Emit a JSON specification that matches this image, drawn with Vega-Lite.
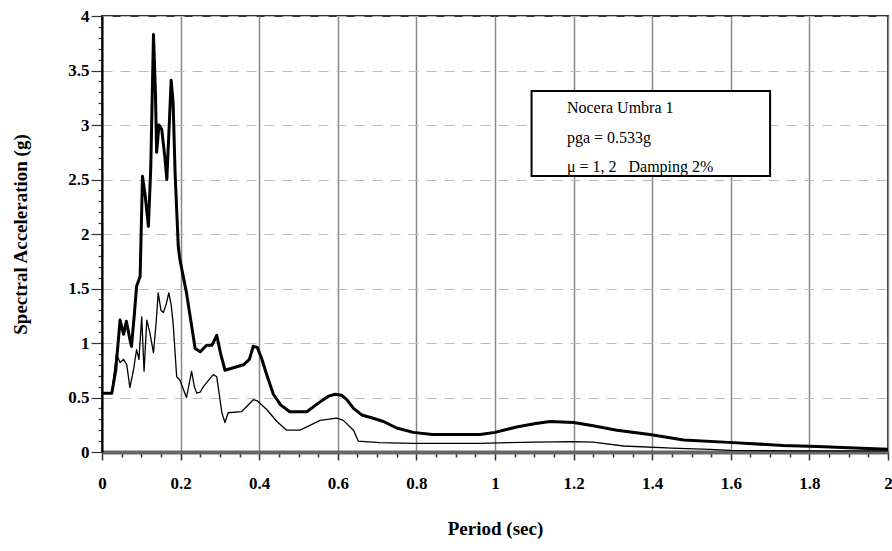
{
  "$schema": "https://vega.github.io/schema/vega-lite/v6.json",
  "width": 786,
  "height": 436,
  "autosize": "none",
  "padding": {"left": 102, "top": 16, "right": 4, "bottom": 99},
  "background": "white",
  "view": {"stroke": "#333", "strokeWidth": 2},
  "config": {
    "font": "Liberation Serif",
    "axis": {"labelFont": "Liberation Serif", "titleFont": "Liberation Serif"}
  },
  "datasets": {
    "curves": [
      {"period": 0.0, "sa": 0.54, "series": "mu1"},
      {"period": 0.025, "sa": 0.54, "series": "mu1"},
      {"period": 0.035, "sa": 0.75, "series": "mu1"},
      {"period": 0.046, "sa": 1.21, "series": "mu1"},
      {"period": 0.055, "sa": 1.08, "series": "mu1"},
      {"period": 0.062, "sa": 1.2, "series": "mu1"},
      {"period": 0.07, "sa": 1.05, "series": "mu1"},
      {"period": 0.075, "sa": 0.97, "series": "mu1"},
      {"period": 0.082, "sa": 1.25, "series": "mu1"},
      {"period": 0.088, "sa": 1.52, "series": "mu1"},
      {"period": 0.097, "sa": 1.61, "series": "mu1"},
      {"period": 0.103, "sa": 2.53, "series": "mu1"},
      {"period": 0.11, "sa": 2.35, "series": "mu1"},
      {"period": 0.118, "sa": 2.07, "series": "mu1"},
      {"period": 0.124, "sa": 2.6, "series": "mu1"},
      {"period": 0.131, "sa": 3.83, "series": "mu1"},
      {"period": 0.136, "sa": 3.3, "series": "mu1"},
      {"period": 0.139, "sa": 2.75, "series": "mu1"},
      {"period": 0.145, "sa": 3.0, "series": "mu1"},
      {"period": 0.152, "sa": 2.96, "series": "mu1"},
      {"period": 0.16, "sa": 2.7, "series": "mu1"},
      {"period": 0.165, "sa": 2.5, "series": "mu1"},
      {"period": 0.176, "sa": 3.41, "series": "mu1"},
      {"period": 0.181, "sa": 3.2, "series": "mu1"},
      {"period": 0.186, "sa": 2.56, "series": "mu1"},
      {"period": 0.194, "sa": 1.89, "series": "mu1"},
      {"period": 0.198, "sa": 1.77, "series": "mu1"},
      {"period": 0.215, "sa": 1.46, "series": "mu1"},
      {"period": 0.237, "sa": 0.95, "series": "mu1"},
      {"period": 0.25, "sa": 0.92, "series": "mu1"},
      {"period": 0.266, "sa": 0.98, "series": "mu1"},
      {"period": 0.28, "sa": 0.98, "series": "mu1"},
      {"period": 0.292, "sa": 1.07, "series": "mu1"},
      {"period": 0.302, "sa": 0.9, "series": "mu1"},
      {"period": 0.313, "sa": 0.75, "series": "mu1"},
      {"period": 0.36, "sa": 0.8, "series": "mu1"},
      {"period": 0.375, "sa": 0.85, "series": "mu1"},
      {"period": 0.385, "sa": 0.97, "series": "mu1"},
      {"period": 0.395, "sa": 0.96, "series": "mu1"},
      {"period": 0.406, "sa": 0.86, "series": "mu1"},
      {"period": 0.42, "sa": 0.7, "series": "mu1"},
      {"period": 0.436, "sa": 0.53, "series": "mu1"},
      {"period": 0.455, "sa": 0.43, "series": "mu1"},
      {"period": 0.478, "sa": 0.37, "series": "mu1"},
      {"period": 0.521, "sa": 0.37, "series": "mu1"},
      {"period": 0.555, "sa": 0.46, "series": "mu1"},
      {"period": 0.575, "sa": 0.51, "series": "mu1"},
      {"period": 0.593, "sa": 0.53, "series": "mu1"},
      {"period": 0.61, "sa": 0.52, "series": "mu1"},
      {"period": 0.623, "sa": 0.48, "series": "mu1"},
      {"period": 0.64, "sa": 0.4, "series": "mu1"},
      {"period": 0.661, "sa": 0.34, "series": "mu1"},
      {"period": 0.69, "sa": 0.31, "series": "mu1"},
      {"period": 0.716, "sa": 0.28, "series": "mu1"},
      {"period": 0.75, "sa": 0.22, "series": "mu1"},
      {"period": 0.792, "sa": 0.18, "series": "mu1"},
      {"period": 0.84, "sa": 0.16, "series": "mu1"},
      {"period": 0.877, "sa": 0.16, "series": "mu1"},
      {"period": 0.962, "sa": 0.16, "series": "mu1"},
      {"period": 1.0, "sa": 0.18, "series": "mu1"},
      {"period": 1.055, "sa": 0.23, "series": "mu1"},
      {"period": 1.1, "sa": 0.26, "series": "mu1"},
      {"period": 1.14, "sa": 0.28, "series": "mu1"},
      {"period": 1.2, "sa": 0.27, "series": "mu1"},
      {"period": 1.25, "sa": 0.24, "series": "mu1"},
      {"period": 1.31, "sa": 0.2, "series": "mu1"},
      {"period": 1.394, "sa": 0.16, "series": "mu1"},
      {"period": 1.48, "sa": 0.11, "series": "mu1"},
      {"period": 1.606, "sa": 0.086, "series": "mu1"},
      {"period": 1.733, "sa": 0.06, "series": "mu1"},
      {"period": 1.82, "sa": 0.05, "series": "mu1"},
      {"period": 1.9, "sa": 0.04, "series": "mu1"},
      {"period": 2.0, "sa": 0.025, "series": "mu1"},
      {"period": 0.0, "sa": 0.54, "series": "mu2"},
      {"period": 0.025, "sa": 0.54, "series": "mu2"},
      {"period": 0.037, "sa": 0.9, "series": "mu2"},
      {"period": 0.046, "sa": 0.82, "series": "mu2"},
      {"period": 0.055, "sa": 0.85, "series": "mu2"},
      {"period": 0.063, "sa": 0.8, "series": "mu2"},
      {"period": 0.071, "sa": 0.59, "series": "mu2"},
      {"period": 0.08, "sa": 0.75, "series": "mu2"},
      {"period": 0.088, "sa": 0.94, "series": "mu2"},
      {"period": 0.094, "sa": 0.85, "series": "mu2"},
      {"period": 0.101, "sa": 1.24, "series": "mu2"},
      {"period": 0.107, "sa": 0.74, "series": "mu2"},
      {"period": 0.114, "sa": 1.21, "series": "mu2"},
      {"period": 0.122, "sa": 1.09, "series": "mu2"},
      {"period": 0.131, "sa": 0.91, "series": "mu2"},
      {"period": 0.138, "sa": 1.2, "series": "mu2"},
      {"period": 0.143, "sa": 1.46, "series": "mu2"},
      {"period": 0.15, "sa": 1.3, "series": "mu2"},
      {"period": 0.156, "sa": 1.28, "series": "mu2"},
      {"period": 0.163, "sa": 1.35, "series": "mu2"},
      {"period": 0.17, "sa": 1.46, "series": "mu2"},
      {"period": 0.176, "sa": 1.35, "series": "mu2"},
      {"period": 0.181, "sa": 1.18, "series": "mu2"},
      {"period": 0.19, "sa": 0.69, "series": "mu2"},
      {"period": 0.198, "sa": 0.66, "series": "mu2"},
      {"period": 0.215, "sa": 0.5, "series": "mu2"},
      {"period": 0.228, "sa": 0.74, "series": "mu2"},
      {"period": 0.235, "sa": 0.6, "series": "mu2"},
      {"period": 0.241, "sa": 0.54, "series": "mu2"},
      {"period": 0.25, "sa": 0.55, "series": "mu2"},
      {"period": 0.258, "sa": 0.6, "series": "mu2"},
      {"period": 0.283, "sa": 0.71, "series": "mu2"},
      {"period": 0.292, "sa": 0.69, "series": "mu2"},
      {"period": 0.305, "sa": 0.36, "series": "mu2"},
      {"period": 0.313, "sa": 0.27, "series": "mu2"},
      {"period": 0.321, "sa": 0.36, "series": "mu2"},
      {"period": 0.355, "sa": 0.37, "series": "mu2"},
      {"period": 0.385, "sa": 0.48, "series": "mu2"},
      {"period": 0.395, "sa": 0.47, "series": "mu2"},
      {"period": 0.419, "sa": 0.39, "series": "mu2"},
      {"period": 0.445, "sa": 0.28, "series": "mu2"},
      {"period": 0.47, "sa": 0.2, "series": "mu2"},
      {"period": 0.504, "sa": 0.2, "series": "mu2"},
      {"period": 0.555, "sa": 0.29, "series": "mu2"},
      {"period": 0.597, "sa": 0.31, "series": "mu2"},
      {"period": 0.614, "sa": 0.29, "series": "mu2"},
      {"period": 0.64, "sa": 0.2, "series": "mu2"},
      {"period": 0.652, "sa": 0.1, "series": "mu2"},
      {"period": 0.707, "sa": 0.086, "series": "mu2"},
      {"period": 0.79, "sa": 0.08, "series": "mu2"},
      {"period": 0.96, "sa": 0.08, "series": "mu2"},
      {"period": 1.1, "sa": 0.09, "series": "mu2"},
      {"period": 1.2, "sa": 0.095, "series": "mu2"},
      {"period": 1.25, "sa": 0.09, "series": "mu2"},
      {"period": 1.327, "sa": 0.055, "series": "mu2"},
      {"period": 1.45, "sa": 0.035, "series": "mu2"},
      {"period": 1.547, "sa": 0.025, "series": "mu2"},
      {"period": 1.6, "sa": 0.015, "series": "mu2"},
      {"period": 1.8, "sa": 0.01, "series": "mu2"},
      {"period": 2.0, "sa": 0.01, "series": "mu2"}
    ],
    "box": [{"period": 1.093, "period2": 1.7, "sa": 2.531, "sa2": 3.313}],
    "notes": [
      {"period": 1.183, "sa": 3.154, "text": "Nocera Umbra 1"},
      {"period": 1.183, "sa": 2.878, "text": "pga = 0.533g"},
      {"period": 1.183, "sa": 2.611, "text": "μ = 1, 2\u00a0\u00a0\u00a0Damping 2%"}
    ]
  },
  "layer": [
    {
      "data": {"name": "curves"},
      "mark": {"type": "line", "color": "black", "clip": true, "strokeJoin": "round"},
      "encoding": {
        "x": {
          "field": "period", "type": "quantitative",
          "scale": {"domain": [0, 2], "nice": false, "zero": false},
          "axis": {
            "title": "Period (sec)",
            "titleFontSize": 19, "titleFontWeight": "bold", "titleColor": "black",
            "titlePadding": 28,
            "tickCount": 200,
            "values": [0,0.05,0.1,0.15,0.2,0.25,0.3,0.35,0.4,0.45,0.5,0.55,0.6,0.65,0.7,0.75,0.8,0.85,0.9,0.95,1,1.05,1.1,1.15,1.2,1.25,1.3,1.35,1.4,1.45,1.5,1.55,1.6,1.65,1.7,1.75,1.8,1.85,1.9,1.95,2],
            "labelExpr": "abs(datum.value*5 - round(datum.value*5)) < 0.001 ? '' + round(datum.value*10)/10 : ''",
            "labelFontSize": 17, "labelFontWeight": "bold", "labelColor": "black",
            "labelPadding": 15, "labelFlush": false, "labelOverlap": false,
            "domainColor": "#666", "domainWidth": 4,
            "tickColor": "#333", "tickWidth": 1.5,
            "tickSize": {"condition": {"test": "abs(datum.value*5 - round(datum.value*5)) < 0.001", "value": 8}, "value": 5},
            "grid": true,
            "gridColor": "#888", "gridWidth": 1.5,
            "gridOpacity": {"condition": {"test": "abs(datum.value*5 - round(datum.value*5)) < 0.001", "value": 1}, "value": 0}
          }
        },
        "y": {
          "field": "sa", "type": "quantitative",
          "scale": {"domain": [0, 4], "nice": false},
          "axis": {
            "title": "Spectral Acceleration (g)",
            "titleFontSize": 19, "titleFontWeight": "bold", "titleColor": "black",
            "titlePadding": 37,
            "tickCount": 200,
            "values": [0,0.1,0.2,0.3,0.4,0.5,0.6,0.7,0.8,0.9,1,1.1,1.2,1.3,1.4,1.5,1.6,1.7,1.8,1.9,2,2.1,2.2,2.3,2.4,2.5,2.6,2.7,2.8,2.9,3,3.1,3.2,3.3,3.4,3.5,3.6,3.7,3.8,3.9,4],
            "labelExpr": "abs(datum.value*2 - round(datum.value*2)) < 0.001 ? '' + round(datum.value*10)/10 : ''",
            "labelFontSize": 17, "labelFontWeight": "bold", "labelColor": "black",
            "labelPadding": 2, "labelFlush": false, "labelOverlap": false,
            "domainColor": "black", "domainWidth": 2,
            "tickColor": "#333", "tickWidth": 1.2,
            "tickSize": {"condition": {"test": "abs(datum.value*2 - round(datum.value*2)) < 0.001", "value": 11}, "value": 4},
            "grid": true,
            "gridColor": "#bbb", "gridWidth": 1, "gridDash": [10, 8],
            "gridOpacity": {"condition": {"test": "abs(datum.value*2 - round(datum.value*2)) < 0.001", "value": 1}, "value": 0}
          }
        },
        "detail": {"field": "series", "type": "nominal"},
        "strokeWidth": {
          "field": "series", "type": "nominal",
          "scale": {"domain": ["mu1", "mu2"], "range": [3, 1.3]},
          "legend": null
        }
      }
    },
    {
      "data": {"name": "box"},
      "mark": {"type": "rect", "fill": "white", "stroke": "black", "strokeWidth": 2},
      "encoding": {
        "x": {"field": "period", "type": "quantitative"},
        "x2": {"field": "period2"},
        "y": {"field": "sa", "type": "quantitative"},
        "y2": {"field": "sa2"}
      }
    },
    {
      "data": {"name": "notes"},
      "mark": {"type": "text", "align": "left", "baseline": "middle", "fontSize": 16, "font": "Liberation Serif", "color": "black"},
      "encoding": {
        "x": {"field": "period", "type": "quantitative"},
        "y": {"field": "sa", "type": "quantitative"},
        "text": {"field": "text"}
      }
    }
  ]
}
